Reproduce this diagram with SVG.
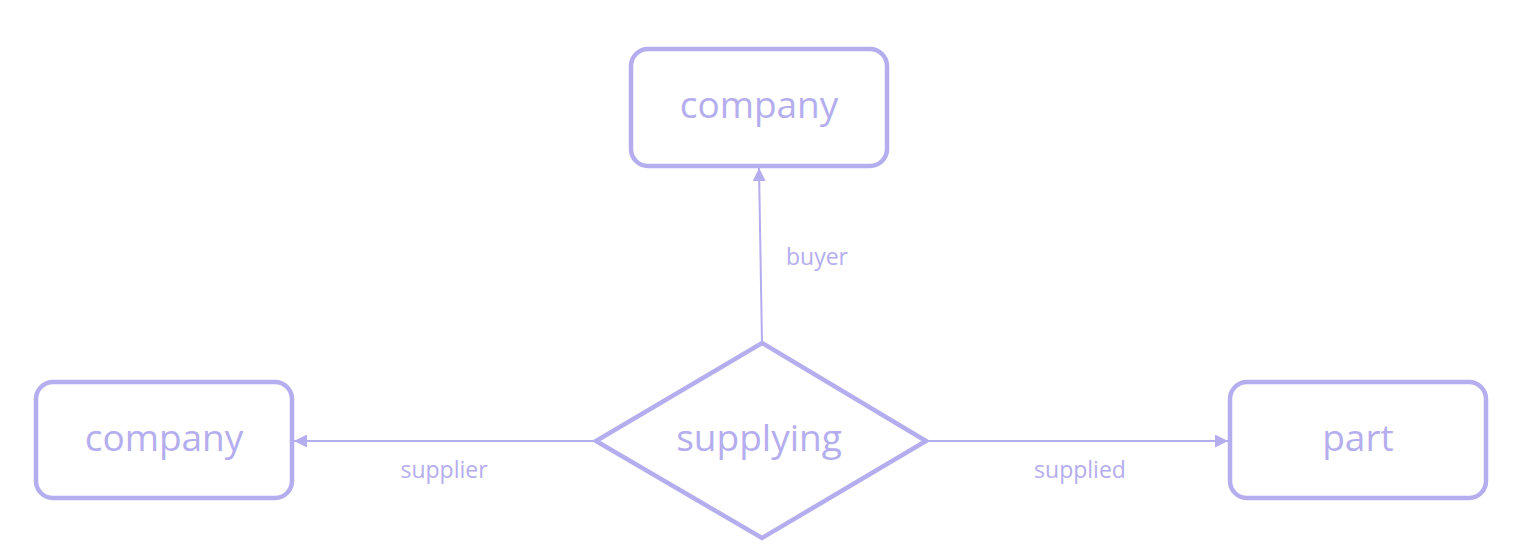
<svg xmlns="http://www.w3.org/2000/svg" width="1523" height="559" viewBox="0 0 1523 559">
<style>
.box{fill:#ffffff;stroke:#b4adee;stroke-width:4.5}
.nt{font-family:"Open Sans","Noto Sans",sans-serif;font-size:37px;fill:#b4adee;text-anchor:middle;dominant-baseline:central}
.lb{font-family:"Open Sans","Noto Sans",sans-serif;font-size:23px;fill:#b4adee;text-anchor:middle;dominant-baseline:central}
.cn{stroke:#b4adee;stroke-width:2;fill:none;marker-end:url(#ah)}
</style>
<defs>
<marker id="ah" viewBox="0 0 10 10" refX="10" refY="5" markerWidth="6.5" markerHeight="6.5" markerUnits="strokeWidth" orient="auto">
<path d="M0,0 L10,5 L0,10 z" fill="#b4adee"/>
</marker>
</defs>
<rect width="1523" height="559" fill="#ffffff"/>
<g id="connectors">
<line class="cn" x1="762" y1="343" x2="759" y2="168"/>
<line class="cn" x1="596" y1="441" x2="294" y2="441"/>
<line class="cn" x1="926" y1="441" x2="1228" y2="441"/>
<text class="lb" x="817" y="256">buyer</text>
<text class="lb" x="444" y="469">supplier</text>
<text class="lb" x="1080" y="469">supplied</text>
</g>
<g id="company-buyer">
<rect class="box" x="631" y="49" width="256" height="117" rx="17"/>
<text class="nt" x="759" y="103">company</text>
</g>
<g id="company-supplier">
<rect class="box" x="36" y="382" width="256" height="116" rx="17"/>
<text class="nt" x="164" y="436">company</text>
</g>
<g id="part">
<rect class="box" x="1230" y="382" width="256" height="116" rx="17"/>
<text class="nt" x="1358" y="436">part</text>
</g>
<g id="supplying">
<polygon class="box" points="762,343 926,441 762,538 596,441"/>
<text class="nt" x="759" y="436">supplying</text>
</g>
</svg>
